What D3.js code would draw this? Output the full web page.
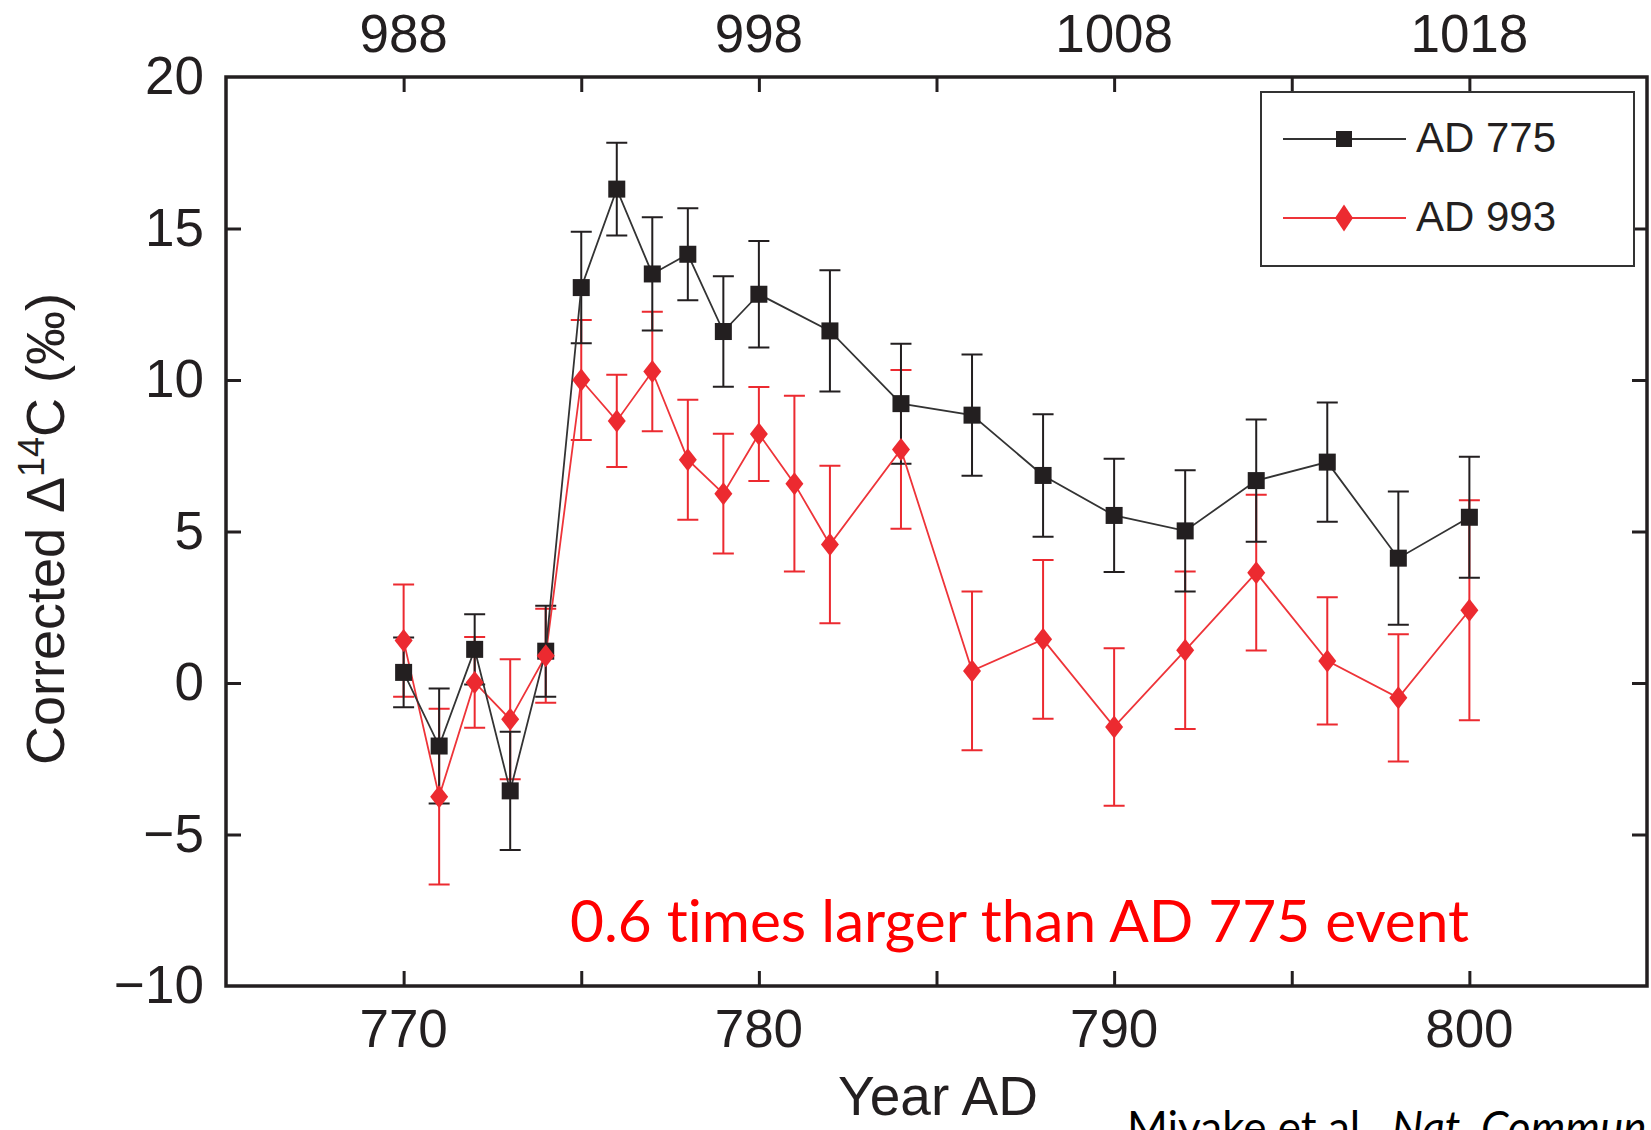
<!DOCTYPE html>
<html><head><meta charset="utf-8">
<script src="https://cdn.jsdelivr.net/npm/d3@7"></script>
<style>body{margin:0;background:#fff;overflow:hidden}</style>
</head><body>
<svg id="c" width="1651" height="1130"></svg>
<script>
// ---- data ----
const years775 = [770,771,772,773,774,775,776,777,778,779,780,782,784,786,788,790,792,794,796,798,800];
const values775 = [0.35,-2.08,1.11,-3.56,1.05,13.05,16.3,13.5,14.15,11.6,12.83,11.62,9.22,8.84,6.85,5.53,5.02,6.68,7.29,4.12,5.47];
const errors775 = [1.15,1.9,1.16,1.95,1.5,1.84,1.53,1.87,1.52,1.82,1.76,2.0,1.98,2.0,2.02,1.87,2.0,2.02,1.97,2.2,2.0];

const years993 = [770,771,772,773,774,775,776,777,778,779,780,781,782,784,786,788,790,792,794,796,798,800];
const values993 = [1.4,-3.75,0.02,-1.2,0.9,10.0,8.65,10.28,7.37,6.25,8.22,6.58,4.57,7.71,0.4,1.44,-1.45,1.08,3.64,0.73,-0.49,2.4];
const errors993 = [1.85,2.9,1.5,1.98,1.55,1.98,1.52,1.97,1.98,1.98,1.55,2.9,2.6,2.62,2.62,2.62,2.6,2.6,2.57,2.1,2.1,3.63];

const xTickLabels = [770,780,790,800];
const xTicksMinor = [770,775,780,785,790,795,800];
const topTickLabels = [988,998,1008,1018];
const topTicksMinor = [988,993,998,1003,1008,1013,1018];
const yTickLabels = [20,15,10,5,0,-5,-10];
const yTicksInner = [15,10,5,0,-5];
const seriesNames = ["AD 775","AD 993"];

// ---- layout ----
const svg = d3.select('#c');
const L = 226, R = 1647, T = 77, B = 986;
const x = d3.scaleLinear().domain([765,805]).range([L,R]);
const xTop = d3.scaleLinear().domain([983,1023]).range([L,R]);
const y = d3.scaleLinear().domain([-10,20]).range([B,T]);

const BLACK = '#231f20', RED = '#ec2a30';
const tickFont = '"Liberation Sans", Arial, Helvetica, sans-serif';

// axes ticks (inward)
function styleAxis(g){ g.select('.domain').remove(); g.selectAll('.tick line').attr('stroke',BLACK).attr('stroke-width',3); g.selectAll('.tick text').remove(); }
svg.append('g').attr('transform',`translate(0,${B})`).call(d3.axisBottom(x).tickValues(xTicksMinor).tickSize(-15)).call(styleAxis);
svg.append('g').attr('transform',`translate(0,${T})`).call(d3.axisTop(xTop).tickValues(topTicksMinor).tickSize(-15)).call(styleAxis);
svg.append('g').attr('transform',`translate(${L},0)`).call(d3.axisLeft(y).tickValues(yTicksInner).tickSize(-15)).call(styleAxis);
svg.append('g').attr('transform',`translate(${R},0)`).call(d3.axisRight(y).tickValues(yTicksInner).tickSize(-15)).call(styleAxis);

// frame
svg.append('rect').attr('x',L).attr('y',T).attr('width',R-L).attr('height',B-T)
  .attr('fill','none').attr('stroke',BLACK).attr('stroke-width',3.5);

// tick labels
const fmt = v => v < 0 ? '\u2212' + Math.abs(v) : String(v);
svg.append('g').selectAll('text').data(xTickLabels).join('text')
  .attr('x',d=>x(d)).attr('y',1047).attr('text-anchor','middle')
  .attr('font-family',tickFont).attr('font-size',53).attr('fill',BLACK).text(d=>d);
svg.append('g').selectAll('text').data(topTickLabels).join('text')
  .attr('x',d=>xTop(d)).attr('y',52).attr('text-anchor','middle')
  .attr('font-family',tickFont).attr('font-size',53).attr('fill',BLACK).text(d=>d);
svg.append('g').selectAll('text').data(yTickLabels).join('text')
  .attr('x',204).attr('y',d=>y(d)+17).attr('text-anchor','end')
  .attr('font-family',tickFont).attr('font-size',53).attr('fill',BLACK).text(d=>fmt(d));

// axis titles
const yt = svg.append('text').attr('transform','translate(64,529) rotate(-90)')
  .attr('text-anchor','middle').attr('font-family',tickFont).attr('font-size',54).attr('fill',BLACK);
yt.append('tspan').text('Corrected \u0394');
yt.append('tspan').attr('font-size',36).attr('dy',-20).text('14');
yt.append('tspan').attr('dy',20).text('C (\u2030)');

svg.append('text').attr('x',938).attr('y',1115).attr('text-anchor','middle')
  .attr('font-family',tickFont).attr('font-size',55).attr('fill',BLACK).text('Year AD');

// series
const s775 = years775.map((yr,i)=>({x:yr,v:values775[i],e:errors775[i]}));
const s993 = years993.map((yr,i)=>({x:yr,v:values993[i],e:errors993[i]}));
const cap = 10.5;

function errorBars(data,color){
  const g = svg.append('g').attr('stroke',color).attr('stroke-width',2).attr('fill','none');
  g.selectAll('path').data(data).join('path')
    .attr('d',d=>{const xx=x(d.x), y1=y(d.v+d.e), y0=y(d.v-d.e);
      return `M${xx},${y1}V${y0}M${xx-cap},${y1}H${xx+cap}M${xx-cap},${y0}H${xx+cap}`;});
}
errorBars(s993,RED);
errorBars(s775,BLACK);

const line = d3.line().x(d=>x(d.x)).y(d=>y(d.v));
svg.append('path').datum(s993).attr('d',line).attr('fill','none').attr('stroke','#ee3439').attr('stroke-width',1.8);
svg.append('path').datum(s775).attr('d',line).attr('fill','none').attr('stroke','#333').attr('stroke-width',1.8);

svg.append('g').selectAll('rect').data(s775).join('rect')
  .attr('x',d=>x(d.x)-8.5).attr('y',d=>y(d.v)-8.5).attr('width',17).attr('height',17).attr('fill',BLACK);
const diamond = (cx,cy,w,h)=>`M${cx},${cy-h/2}L${cx+w/2},${cy}L${cx},${cy+h/2}L${cx-w/2},${cy}Z`;
svg.append('g').selectAll('path').data(s993).join('path')
  .attr('d',d=>diamond(x(d.x),y(d.v),18,23)).attr('fill',RED);

// legend
const lg = svg.append('g');
lg.append('rect').attr('x',1261).attr('y',92).attr('width',373).attr('height',174)
  .attr('fill','#fff').attr('stroke','#333').attr('stroke-width',2);
[[139,BLACK,'#333'],[218,RED,'#ee3439']].forEach(([ly,c,lc],i)=>{
  lg.append('line').attr('x1',1283).attr('x2',1406).attr('y1',ly).attr('y2',ly).attr('stroke',lc).attr('stroke-width',2);
  if(i===0) lg.append('rect').attr('x',1336).attr('y',ly-8).attr('width',16).attr('height',16).attr('fill',c);
  else lg.append('path').attr('d',diamond(1344,ly,18,27)).attr('fill',c);
  lg.append('text').attr('x',1416).attr('y',ly+13).attr('font-family',tickFont).attr('font-size',42)
    .attr('fill',BLACK).text(seriesNames[i]);
});

// annotation
svg.append('text').attr('x',570).attr('y',942).attr('font-family','Lato, "Open Sans", sans-serif')
  .style('font-variant-ligatures','none').style('font-feature-settings','"liga" 0, "clig" 0')
  .attr('font-size',58).attr('fill','#ff0000').attr('textLength',899).attr('lengthAdjust','spacingAndGlyphs')
  .text('0.6 times larger than AD 775 event');

// citation (cut off at the bottom edge, as in the source)
const ct = svg.append('text').attr('x',1127).attr('y',1143).attr('font-family','Lato, "Open Sans", sans-serif')
  .style('font-variant-ligatures','none')
  .attr('font-size',44).attr('fill','#000');
ct.append('tspan').text('Miyake et al., ');
ct.append('tspan').attr('font-style','italic').text('Nat. Commun.');
</script>
</body></html>
